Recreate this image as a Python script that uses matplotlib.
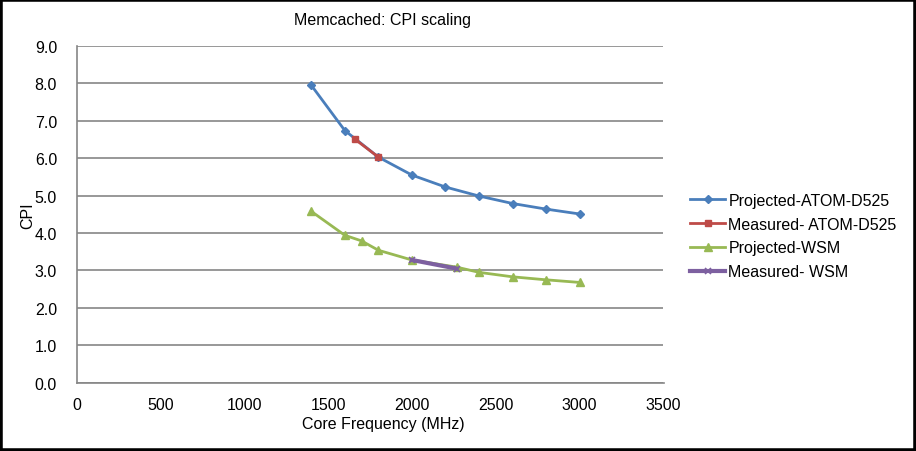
import matplotlib
matplotlib.use("Agg")
import matplotlib.pyplot as plt
from matplotlib.patches import Rectangle

plt.rcParams['font.family'] = ['Liberation Sans', 'DejaVu Sans']

proj_atom_x = [1400, 1600, 1800, 2000, 2200, 2400, 2600, 2800, 3000]
proj_atom_y = [7.95, 6.74, 6.03, 5.55, 5.23, 4.99, 4.79, 4.64, 4.51]
meas_atom_x = [1660, 1800]
meas_atom_y = [6.51, 6.03]
proj_wsm_x = [1400, 1600, 1700, 1800, 2000, 2266, 2400, 2600, 2800, 3000]
proj_wsm_y = [4.58, 3.94, 3.79, 3.54, 3.28, 3.09, 2.95, 2.83, 2.75, 2.68]
meas_wsm_x = [2000, 2266]
meas_wsm_y = [3.28, 3.05]

xticks = [0, 500, 1000, 1500, 2000, 2500, 3000, 3500]
yticks = [0.0, 1.0, 2.0, 3.0, 4.0, 5.0, 6.0, 7.0, 8.0, 9.0]

W, H = 916, 452
fig = plt.figure(figsize=(W / 100, H / 100), dpi=100)
ax = fig.add_axes([76.5 / W, 1 - 383.7 / H, (663.5 - 76.5) / W, (383.7 - 47) / H])

ax.plot(proj_atom_x, proj_atom_y, color='#4A7EBB', lw=2, marker='D', ms=4,
        label='Projected-ATOM-D525', zorder=3)
ax.plot(meas_atom_x, meas_atom_y, color='#BE4B48', lw=2, marker='s', ms=5,
        label='Measured- ATOM-D525', zorder=4)
ax.plot(proj_wsm_x, proj_wsm_y, color='#98B954', lw=2, marker='^', ms=5.5,
        label='Projected-WSM', zorder=3)
ax.plot(meas_wsm_x, meas_wsm_y, color='#7D60A0', lw=3, marker='x', ms=5, mew=1.2,
        label='Measured- WSM', zorder=4)

fs = 11.5
ax.set_xlim(0, 3500)
ax.set_ylim(0, 9)
ax.set_xticks(xticks)
ax.set_xticklabels([str(t) for t in xticks])
ax.set_yticks(yticks)
ax.set_yticklabels([f"{t:.1f}" for t in yticks])
ax.tick_params(length=0, labelsize=fs, pad=10)
ax.tick_params(axis='y', pad=14)
ax.grid(axis='y', color='#868686', lw=1.2)
ax.set_axisbelow(True)
for s in ['top', 'right']:
    ax.spines[s].set_visible(False)
for s in ['left', 'bottom']:
    ax.spines[s].set_color('#868686')
    ax.spines[s].set_linewidth(1.2)

fig.text(383 / W, 1 - 20 / H, 'Memcached: CPI scaling', ha='center', va='center', fontsize=fs)
fig.text(383 / W, 1 - 425 / H, 'Core Frequency (MHz)', ha='center', va='center', fontsize=fs)
fig.text(28 / W, 1 - 216 / H, 'CPI', ha='center', va='center', rotation=90, fontsize=fs)

ax.legend(loc='center left', bbox_to_anchor=(690 / W, 1 - 237 / H), bbox_transform=fig.transFigure,
          frameon=False, fontsize=fs, handlelength=2.2, handletextpad=0.2, labelspacing=0.55,
          borderaxespad=0, borderpad=0)

fig.add_artist(Rectangle((0, 0), 1, 1, transform=fig.transFigure, fill=False,
                         edgecolor='black', lw=4))

fig.savefig('out.png', dpi=100)
